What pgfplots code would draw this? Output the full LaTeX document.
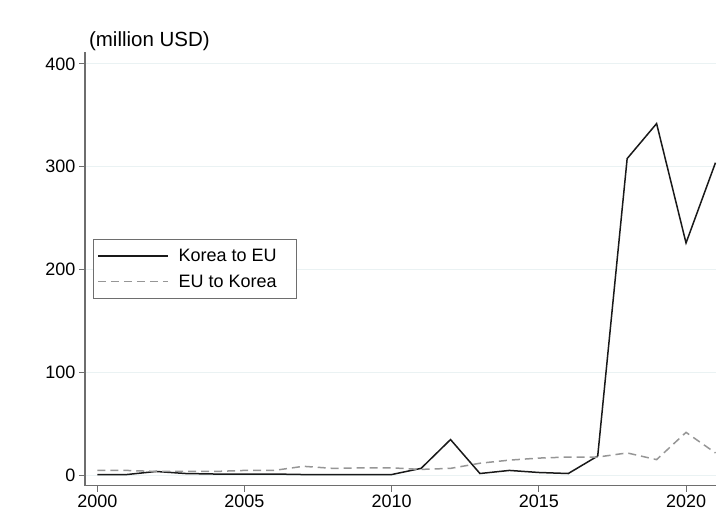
\documentclass[border=0pt]{standalone}
\usepackage{pgfplots}
\pgfplotsset{compat=1.18}
\usepackage{fontspec}
\setmainfont{Liberation Sans}
\definecolor{gridc}{RGB}{234,242,243}
\definecolor{axc}{RGB}{110,110,110}
\definecolor{eugray}{RGB}{150,150,150}
\begin{document}
\begin{tikzpicture}
\begin{axis}[
  at={(0,0)}, anchor=south west,
  scale only axis, width=632bp, height=434bp,
  xmin=1999.58, xmax=2021.03, ymin=-9.7, ymax=411.6,
  axis lines=left, axis line style={-, axc, line width=1.3bp},
  xtick={2000,2005,2010,2015,2020},
  ytick={0,100,200,300,400},
  tick align=outside, major tick length=6bp,
  tick style={axc, line width=1bp},
  ymajorgrids, grid style={gridc, line width=1bp},
  /pgf/number format/1000 sep={},
  /pgf/number format/assume math mode=true,
  ticklabel style={font=\fontsize{18bp}{20bp}\selectfont, text=black},
  legend style={at={(8bp,0.5)}, anchor=west, draw=axc, line width=0.8bp,
    font=\fontsize{18bp}{20bp}\selectfont, row sep=8bp, column sep=8bp,
    inner xsep=4bp, inner ysep=7.5bp},
  legend cell align=left,
  legend image code/.code={\draw[#1, line width=1.4bp] (0bp,0bp) -- (70bp,0bp);},
  clip=true,
]
\addplot[black!90, line width=1.5bp] coordinates {
(2000,1) (2001,1) (2002,4) (2003,2) (2004,1.5) (2005,1.5) (2006,1.5) (2007,1) (2008,1) (2009,1) (2010,1) (2011,7) (2012,35) (2013,2) (2014,5) (2015,3) (2016,2) (2017,19) (2018,308) (2019,342) (2020,226) (2021,304)
};
\addlegendentry{Korea to EU\hspace*{14bp}}
\addplot[eugray, line width=1.5bp, dash pattern=on 8bp off 5bp] coordinates {
(2000,5) (2001,5) (2002,4) (2003,4) (2004,4) (2005,5) (2006,5) (2007,9) (2008,7) (2009,7.5) (2010,7.5) (2011,6) (2012,7) (2013,12) (2014,15) (2015,17) (2016,18) (2017,18) (2018,22) (2019,15.5) (2020,42) (2021,22)
};
\addlegendentry{EU to Korea}
\end{axis}
\node[anchor=base west, font=\fontsize{20.5bp}{23bp}\selectfont, inner sep=0pt] at (4bp,439bp) {(million USD)};
\useasboundingbox (-85bp,-32bp) rectangle (632bp,486bp);
\end{tikzpicture}
\end{document}
